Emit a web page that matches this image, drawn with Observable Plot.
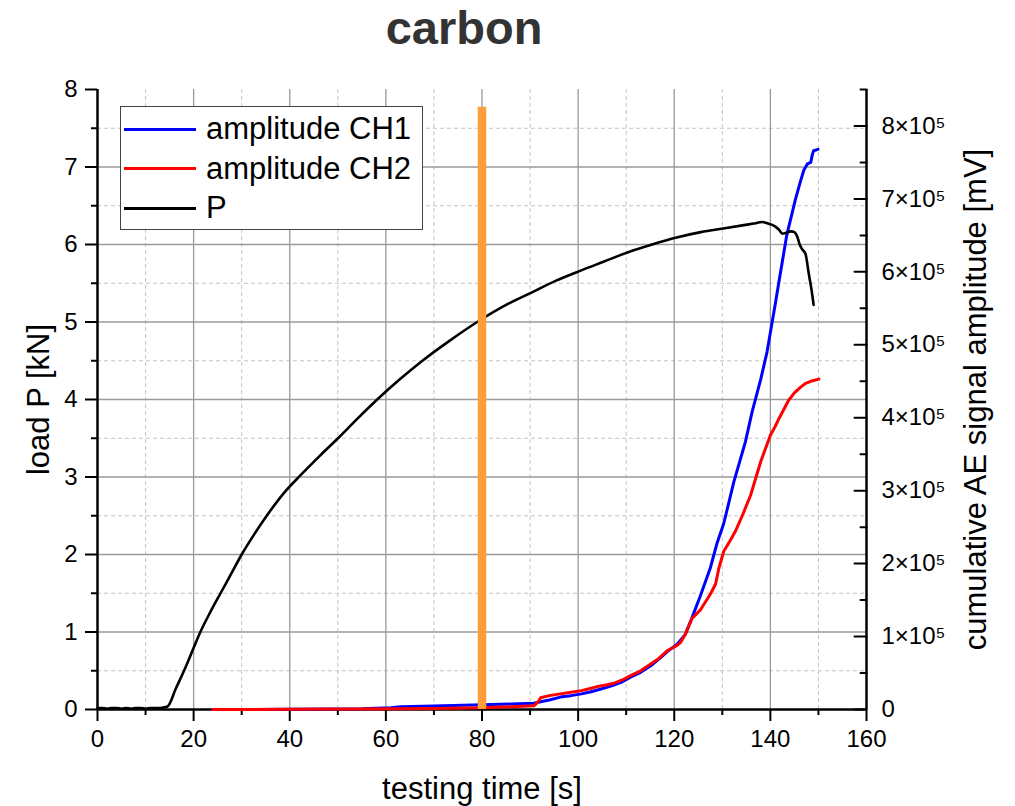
<!DOCTYPE html>
<html><head><meta charset="utf-8">
<script src="https://cdn.jsdelivr.net/npm/d3@7"></script>
<script src="https://cdn.jsdelivr.net/npm/@observablehq/plot@0.6"></script>
<style>
body{margin:0;background:#fff;font-family:"Liberation Sans",Arial,sans-serif;}
#wrap{position:relative;width:1015px;height:806px;}
#title{height:60px;width:928px;text-align:center;font-weight:bold;font-size:47px;line-height:56px;color:#333;}
#legend{position:absolute;left:120px;top:106px;width:303px;height:124px;box-sizing:border-box;border:1.5px solid #444;background:#fff;}
.row{position:absolute;left:0;height:40px;width:300px;}
.sw{position:absolute;left:3px;top:18.5px;width:72px;height:3px;}
.lb{position:absolute;left:85px;top:0;line-height:40px;font-size:31px;color:#000;white-space:nowrap;}
</style></head>
<body>
<div id="wrap"><div id="title"></div><div id="chart"></div><div id="legend"></div></div>
<script>
const chartTitle = "carbon";
const xLabel = "testing time [s]";
const yLabel = "load P [kN]";
const y2Label = "cumulative AE signal amplitude [mV]";
const seriesNames = ["amplitude CH1", "amplitude CH2", "P"];
const seriesColors = ["#0000ff", "#ff0000", "#000000"];

const xMajor = [0, 20, 40, 60, 80, 100, 120, 140, 160];
const xMinor = [10, 30, 50, 70, 90, 110, 130, 150];
const yMajor = [0, 1, 2, 3, 4, 5, 6, 7, 8];
const yMinor = [0.5, 1.5, 2.5, 3.5, 4.5, 5.5, 6.5, 7.5];
const ampMajor = [0, 100000, 200000, 300000, 400000, 500000, 600000, 700000, 800000];
const ampMinor = [50000, 150000, 250000, 350000, 450000, 550000, 650000, 750000, 850000];
const ampTickLabels = ["0", "1×10⁵", "2×10⁵", "3×10⁵", "4×10⁵", "5×10⁵", "6×10⁵", "7×10⁵", "8×10⁵"];
const ampMax = 850000;   // right axis top, aligned with load = 8 kN
const loadMax = 8;

const markerTime = 80;
const markerTop = 7.77;

const pTime = [0,1,2,3,4,5,6,7,8,9,10,11,12,13,14,14.6,16.3,18.0,19.7,21.4,23.5,25.6,27.8,30.0,32.5,35.1,38.6,42.2,46.2,50.2,54.2,58.2,62.9,67.6,73.3,79.0,85.3,90.3,95.3,100.4,105.4,110.4,115.4,120.5,125.5,130.5,134.5,136.5,138.3,139.5,140.8,141.8,142.5,143.3,144.3,145.0,145.6,146.1,146.6,147.3,148.0,148.6,149.0];
const pLoad = [0.02,0.02,0.01,0.02,0.02,0.01,0.02,0.01,0.02,0.02,0.01,0.02,0.02,0.02,0.03,0.04,0.27,0.5,0.75,1.0,1.26,1.5,1.75,2.0,2.25,2.49,2.78,3.02,3.27,3.51,3.76,4.0,4.26,4.5,4.76,5.0,5.23,5.38,5.53,5.66,5.78,5.90,6.0,6.09,6.16,6.21,6.25,6.27,6.29,6.27,6.24,6.19,6.14,6.15,6.17,6.16,6.10,6.00,5.94,5.88,5.62,5.40,5.22];

const ch1Time = [24,40,55,61,63,70,80,86,90.8,92.2,94.0,96.3,98.5,100.7,102.5,104.0,105.8,107.4,109.2,110.9,113.0,115.1,116.8,118.5,120.6,122.3,123.7,125.5,127.5,128.9,130.3,132.4,134.8,136.2,138.0,139.3,140.0,141.1,141.8,143.4,145.2,146.3,147.0,147.7,148.4,148.7,149.0,149.9];
const ch1Amp = [0,300,900,2500,3800,4800,6400,7400,8600,10500,13000,17000,19000,21400,24000,26800,30000,33600,38000,44300,51000,60000,69000,79000,89600,103000,126000,157000,194000,228000,255000,312000,367000,408000,453000,490000,517000,559000,587000,650000,699000,725000,740000,748000,750000,760000,766000,768000];

const ch2Time = [24,40,55,70,80,86,90.8,91.6,92.2,94.0,96.3,98.5,100.7,102.5,104.0,105.8,107.4,109.2,110.9,113.0,115.1,116.8,118.5,120.6,121.3,122.3,123.7,125.5,127.5,128.6,129.3,130.3,131.5,132.7,134.3,135.9,138.0,140.0,141.0,141.8,143.8,145.0,146.3,147.3,148.4,150.1];
const ch2Amp = [0,200,700,1500,2500,3800,5000,10000,16000,19000,21400,23500,25900,28800,31400,33500,35900,40500,46400,53000,62300,70000,80500,88000,91800,103000,125000,137000,158000,172000,194000,217000,230000,244000,268000,294000,340000,376000,388000,399000,424000,434000,442000,447000,450000,453000];

const k = loadMax / ampMax;
const pRows = pTime.map((t, i) => ({t, y: pLoad[i]}));
const ch1Rows = ch1Time.map((t, i) => ({t, y: ch1Amp[i] * k}));
const ch2Rows = ch2Time.map((t, i) => ({t, y: ch2Amp[i] * k}));

const tickShape = {draw(ctx, l) { ctx.moveTo(0, 0); ctx.lineTo(0, -l); }};
const majorGrid = {stroke: "#9a9a9a", strokeOpacity: 1, strokeWidth: 1.3};
const minorGrid = {stroke: "#c4c4c4", strokeOpacity: 1, strokeWidth: 1, strokeDasharray: "4,3"};

const chart = Plot.plot({
  width: 1015, height: 746,
  marginTop: 29, marginBottom: 97, marginLeft: 97, marginRight: 149,
  style: {fontFamily: "'Liberation Sans', Arial, sans-serif", fontSize: "24px", background: "white", color: "black"},
  x: {domain: [0, 160], label: null},
  y: {domain: [0, loadMax], label: null},
  marks: [
    Plot.gridX(xMinor, minorGrid),
    Plot.gridY(yMinor, minorGrid),
    Plot.gridX(xMajor.filter(d => d > 0 && d < 160), majorGrid),
    Plot.gridY(yMajor.filter(d => d > 0 && d < loadMax), majorGrid),
    Plot.axisX(xMajor, {tickSize: 12, tickPadding: 8, strokeWidth: 2, label: null, tickFormat: d => String(d)}),
    Plot.axisX(xMinor, {tickSize: 6, tickFormat: () => "", strokeWidth: 2, label: null}),
    Plot.axisY(yMajor, {tickSize: 12, tickPadding: 8, strokeWidth: 2, label: null, tickFormat: d => String(d)}),
    Plot.axisY(yMinor, {tickSize: 6, tickFormat: () => "", strokeWidth: 2, label: null}),
    Plot.axisY(ampMajor.map(v => v * k), {anchor: "right", tickSize: 0, tickPadding: 15, label: null,
      tickFormat: d => ampTickLabels[Math.round(d / k / 100000)]}),
    Plot.vector(ampMajor, {x: 160, y: v => v * k, length: 12, rotate: -90, anchor: "start", shape: tickShape, stroke: "black", strokeWidth: 2}),
    Plot.vector(ampMinor, {x: 160, y: v => v * k, length: 6, rotate: -90, anchor: "start", shape: tickShape, stroke: "black", strokeWidth: 2}),
    Plot.ruleX([0], {stroke: "black", strokeWidth: 2.5}),
    Plot.ruleX([160], {stroke: "black", strokeWidth: 2.5}),
    Plot.ruleY([0], {stroke: "black", strokeWidth: 2.5}),
    Plot.line(ch1Rows, {x: "t", y: "y", stroke: seriesColors[0], strokeWidth: 3}),
    Plot.line(ch2Rows, {x: "t", y: "y", stroke: seriesColors[1], strokeWidth: 3}),
    Plot.line(pRows, {x: "t", y: "y", stroke: seriesColors[2], strokeWidth: 2.6, curve: "monotone-x"}),
    Plot.ruleX([{t: markerTime, top: markerTop}], {x: "t", y1: 0, y2: "top", stroke: "#ff9d3c", strokeWidth: 8.5}),
    Plot.text([xLabel], {frameAnchor: "bottom", dy: 80, fontSize: 31, textAnchor: "middle", lineAnchor: "middle"}),
    Plot.text([yLabel], {frameAnchor: "left", dx: -58, rotate: -90, fontSize: 31, textAnchor: "middle", lineAnchor: "middle"}),
    Plot.text([y2Label], {frameAnchor: "right", dx: 110, rotate: -90, fontSize: 31, textAnchor: "middle", lineAnchor: "middle"})
  ]
});
document.getElementById("chart").appendChild(chart);
document.getElementById("title").textContent = chartTitle;

const legend = document.getElementById("legend");
seriesNames.forEach((name, i) => {
  const row = document.createElement("div");
  row.className = "row";
  row.style.top = (2 + 39.5 * i) + "px";
  const sw = document.createElement("div");
  sw.className = "sw"; sw.style.background = seriesColors[i];
  const lb = document.createElement("div");
  lb.className = "lb"; lb.textContent = name;
  row.appendChild(sw); row.appendChild(lb);
  legend.appendChild(row);
});
</script>
</body></html>
